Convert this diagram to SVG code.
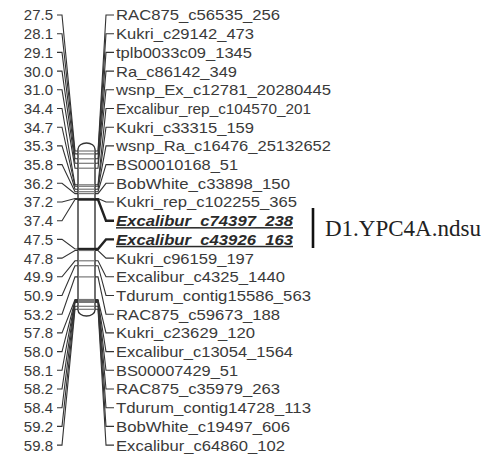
<svg xmlns="http://www.w3.org/2000/svg" width="504" height="457" viewBox="0 0 504 457">
<style>
.num{font-family:"Liberation Sans",Arial,sans-serif;font-size:15px;fill:#3a3a3a;text-anchor:end}
.lbl{font-family:"Liberation Sans",Arial,sans-serif;font-size:15px;fill:#3a3a3a}
.bold{font-weight:bold;font-style:italic;text-decoration:underline;fill:#2a2a2a}
.con{fill:none;stroke:#333;stroke-width:1.1}
.conb{fill:none;stroke:#222;stroke-width:2.4}
.band{stroke:#777;stroke-width:1.2}
.bandb{stroke:#222;stroke-width:2.4}
.chrom{fill:#fff;stroke:#333;stroke-width:1.4}
</style>
<rect width="504" height="457" fill="#fff"/>
<g id="chromosome">
<rect class="chrom" x="78" y="143" width="17" height="173" rx="8.5" ry="6"/>
<g>
<line class="band" x1="78" y1="151" x2="95" y2="151"/>
<line class="band" x1="78" y1="153.9" x2="95" y2="153.9"/>
<line class="band" x1="78" y1="158.8" x2="95" y2="158.8"/>
<line class="band" x1="78" y1="163.3" x2="95" y2="163.3"/>
<line class="band" x1="78" y1="168.2" x2="95" y2="168.2"/>
<line class="band" x1="78" y1="184.8" x2="95" y2="184.8"/>
<line class="band" x1="78" y1="186.3" x2="95" y2="186.3"/>
<line class="band" x1="78" y1="189.2" x2="95" y2="189.2"/>
<line class="band" x1="78" y1="191.7" x2="95" y2="191.7"/>
<line class="band" x1="78" y1="193.6" x2="95" y2="193.6"/>
<line class="band" x1="78" y1="198.5" x2="95" y2="198.5"/>
<line class="bandb" x1="78" y1="199.5" x2="95" y2="199.5"/>
<line class="bandb" x1="78" y1="249" x2="95" y2="249"/>
<line class="band" x1="78" y1="250.5" x2="95" y2="250.5"/>
<line class="band" x1="78" y1="260.8" x2="95" y2="260.8"/>
<line class="band" x1="78" y1="265.7" x2="95" y2="265.7"/>
<line class="band" x1="78" y1="276.9" x2="95" y2="276.9"/>
<line class="band" x1="78" y1="299.5" x2="95" y2="299.5"/>
<line class="band" x1="78" y1="300.5" x2="95" y2="300.5"/>
<line class="band" x1="78" y1="300.9" x2="95" y2="300.9"/>
<line class="band" x1="78" y1="301.4" x2="95" y2="301.4"/>
<line class="band" x1="78" y1="302.4" x2="95" y2="302.4"/>
<line class="band" x1="78" y1="306.3" x2="95" y2="306.3"/>
<line class="band" x1="78" y1="309.3" x2="95" y2="309.3"/>
</g>
</g>
<g id="connectors">
<path class="con" d="M57,15 H62 L75,151 H78 M95,151 H98 L106,15 H114"/>
<path class="con" d="M57,33.7 H62 L75,153.9 H78 M95,153.9 H98 L106,33.7 H114"/>
<path class="con" d="M57,52.4 H62 L75,158.8 H78 M95,158.8 H98 L106,52.4 H114"/>
<path class="con" d="M57,71.1 H62 L75,163.3 H78 M95,163.3 H98 L106,71.1 H114"/>
<path class="con" d="M57,89.8 H62 L75,168.2 H78 M95,168.2 H98 L106,89.8 H114"/>
<path class="con" d="M57,108.5 H62 L75,184.8 H78 M95,184.8 H98 L106,108.5 H114"/>
<path class="con" d="M57,127.2 H62 L75,186.3 H78 M95,186.3 H98 L106,127.2 H114"/>
<path class="con" d="M57,145.9 H62 L75,189.2 H78 M95,189.2 H98 L106,145.9 H114"/>
<path class="con" d="M57,164.6 H62 L75,191.7 H78 M95,191.7 H98 L106,164.6 H114"/>
<path class="con" d="M57,183.3 H62 L75,193.6 H78 M95,193.6 H98 L106,183.3 H114"/>
<path class="con" d="M57,202 H62 L75,198.5 H78 M95,198.5 H98 L106,202 H114"/>
<path class="con" d="M57,220.7 H62 L75,199.5 H78"/>
<path class="conb" d="M95,199.5 H98 L106,220.7 H114"/>
<path class="con" d="M57,239.4 H62 L75,249 H78"/>
<path class="conb" d="M95,249 H98 L106,239.4 H114"/>
<path class="con" d="M57,258.1 H62 L75,250.5 H78 M95,250.5 H98 L106,258.1 H114"/>
<path class="con" d="M57,276.8 H62 L75,260.8 H78 M95,260.8 H98 L106,276.8 H114"/>
<path class="con" d="M57,295.5 H62 L75,265.7 H78 M95,265.7 H98 L106,295.5 H114"/>
<path class="con" d="M57,314.2 H62 L75,276.9 H78 M95,276.9 H98 L106,314.2 H114"/>
<path class="con" d="M57,332.9 H62 L75,299.5 H78 M95,299.5 H98 L106,332.9 H114"/>
<path class="con" d="M57,351.6 H62 L75,300.5 H78 M95,300.5 H98 L106,351.6 H114"/>
<path class="con" d="M57,370.3 H62 L75,300.9 H78 M95,300.9 H98 L106,370.3 H114"/>
<path class="con" d="M57,389 H62 L75,301.4 H78 M95,301.4 H98 L106,389 H114"/>
<path class="con" d="M57,407.7 H62 L75,302.4 H78 M95,302.4 H98 L106,407.7 H114"/>
<path class="con" d="M57,426.4 H62 L75,306.3 H78 M95,306.3 H98 L106,426.4 H114"/>
<path class="con" d="M57,445.1 H62 L75,309.3 H78 M95,309.3 H98 L106,445.1 H114"/>
</g>
<g id="m01"><text class="num" x="53" y="20.4">27.5</text><text class="lbl" x="116" y="20.4" textLength="164" lengthAdjust="spacingAndGlyphs">RAC875_c56535_256</text></g>
<g id="m02"><text class="num" x="53" y="39.1">28.1</text><text class="lbl" x="116" y="39.1" textLength="138" lengthAdjust="spacingAndGlyphs">Kukri_c29142_473</text></g>
<g id="m03"><text class="num" x="53" y="57.8">29.1</text><text class="lbl" x="116" y="57.8" textLength="136" lengthAdjust="spacingAndGlyphs">tplb0033c09_1345</text></g>
<g id="m04"><text class="num" x="53" y="76.5">30.0</text><text class="lbl" x="116" y="76.5" textLength="121" lengthAdjust="spacingAndGlyphs">Ra_c86142_349</text></g>
<g id="m05"><text class="num" x="53" y="95.2">31.0</text><text class="lbl" x="116" y="95.2" textLength="215" lengthAdjust="spacingAndGlyphs">wsnp_Ex_c12781_20280445</text></g>
<g id="m06"><text class="num" x="53" y="113.9">34.4</text><text class="lbl" x="116" y="113.9" textLength="195" lengthAdjust="spacingAndGlyphs">Excalibur_rep_c104570_201</text></g>
<g id="m07"><text class="num" x="53" y="132.6">34.7</text><text class="lbl" x="116" y="132.6" textLength="138" lengthAdjust="spacingAndGlyphs">Kukri_c33315_159</text></g>
<g id="m08"><text class="num" x="53" y="151.3">35.3</text><text class="lbl" x="116" y="151.3" textLength="215" lengthAdjust="spacingAndGlyphs">wsnp_Ra_c16476_25132652</text></g>
<g id="m09"><text class="num" x="53" y="170">35.8</text><text class="lbl" x="116" y="170" textLength="122" lengthAdjust="spacingAndGlyphs">BS00010168_51</text></g>
<g id="m10"><text class="num" x="53" y="188.7">36.2</text><text class="lbl" x="116" y="188.7" textLength="174" lengthAdjust="spacingAndGlyphs">BobWhite_c33898_150</text></g>
<g id="m11"><text class="num" x="53" y="207.4">37.2</text><text class="lbl" x="116" y="207.4" textLength="181" lengthAdjust="spacingAndGlyphs">Kukri_rep_c102255_365</text></g>
<g id="m12"><text class="num" x="53" y="226.1">37.4</text><text class="lbl bold" x="116" y="226.1" textLength="177" lengthAdjust="spacingAndGlyphs">Excalibur_c74397_238</text></g>
<g id="m13"><text class="num" x="53" y="244.8">47.5</text><text class="lbl bold" x="116" y="244.8" textLength="177" lengthAdjust="spacingAndGlyphs">Excalibur_c43926_163</text></g>
<g id="m14"><text class="num" x="53" y="263.5">47.8</text><text class="lbl" x="116" y="263.5" textLength="138" lengthAdjust="spacingAndGlyphs">Kukri_c96159_197</text></g>
<g id="m15"><text class="num" x="53" y="282.2">49.9</text><text class="lbl" x="116" y="282.2" textLength="169" lengthAdjust="spacingAndGlyphs">Excalibur_c4325_1440</text></g>
<g id="m16"><text class="num" x="53" y="300.9">50.9</text><text class="lbl" x="116" y="300.9" textLength="195" lengthAdjust="spacingAndGlyphs">Tdurum_contig15586_563</text></g>
<g id="m17"><text class="num" x="53" y="319.6">53.2</text><text class="lbl" x="116" y="319.6" textLength="164" lengthAdjust="spacingAndGlyphs">RAC875_c59673_188</text></g>
<g id="m18"><text class="num" x="53" y="338.3">57.8</text><text class="lbl" x="116" y="338.3" textLength="139" lengthAdjust="spacingAndGlyphs">Kukri_c23629_120</text></g>
<g id="m19"><text class="num" x="53" y="357">58.0</text><text class="lbl" x="116" y="357" textLength="177" lengthAdjust="spacingAndGlyphs">Excalibur_c13054_1564</text></g>
<g id="m20"><text class="num" x="53" y="375.7">58.1</text><text class="lbl" x="116" y="375.7" textLength="122" lengthAdjust="spacingAndGlyphs">BS00007429_51</text></g>
<g id="m21"><text class="num" x="53" y="394.4">58.2</text><text class="lbl" x="116" y="394.4" textLength="164" lengthAdjust="spacingAndGlyphs">RAC875_c35979_263</text></g>
<g id="m22"><text class="num" x="53" y="413.1">58.4</text><text class="lbl" x="116" y="413.1" textLength="195" lengthAdjust="spacingAndGlyphs">Tdurum_contig14728_113</text></g>
<g id="m23"><text class="num" x="53" y="431.8">59.2</text><text class="lbl" x="116" y="431.8" textLength="174" lengthAdjust="spacingAndGlyphs">BobWhite_c19497_606</text></g>
<g id="m24"><text class="num" x="53" y="450.5">59.8</text><text class="lbl" x="116" y="450.5" textLength="169" lengthAdjust="spacingAndGlyphs">Excalibur_c64860_102</text></g>
<g id="qtl">
<line x1="313" y1="208" x2="313" y2="248" stroke="#111" stroke-width="2.6"/>
<text x="325" y="236" font-family="'Liberation Serif','Times New Roman',serif" font-size="23" fill="#222">D1.YPC4A.ndsu</text>
</g>
</svg>
